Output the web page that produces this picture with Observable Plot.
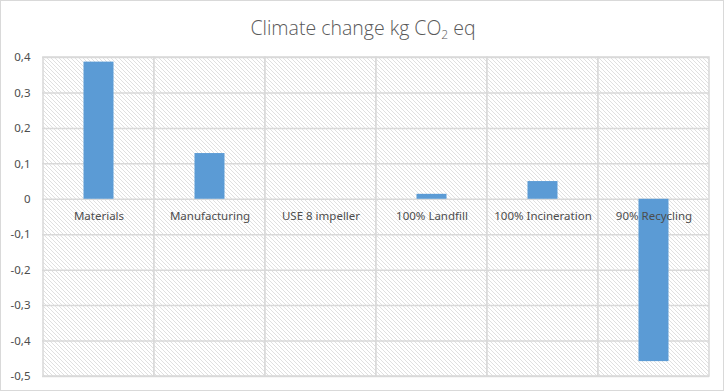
<!DOCTYPE html>
<html>
<head>
<meta charset="utf-8">
<script src="https://cdn.jsdelivr.net/npm/d3@7"></script>
<script src="https://cdn.jsdelivr.net/npm/@observablehq/plot@0.6"></script>
<style>
  html, body { margin: 0; padding: 0; background: #fff; }
  #wrap { position: relative; width: 726px; height: 392px; overflow: hidden; }
  #border { position: absolute; left: 0; top: 0; width: 722px; height: 389px; border: 1px solid #d9d9d9; pointer-events: none; }
  #title { height: 47px; line-height: 56px; text-align: center; font-family: "Open Sans", sans-serif; font-weight: 300; font-size: 19.5px; color: #595959; box-sizing: border-box; }
  #title sub { font-size: 12px; vertical-align: -4px; line-height: 0; }
  svg { display: block; }
</style>
</head>
<body>
<div id="wrap">
  <div id="title">Climate change kg CO<sub>2</sub> eq</div>
  <div id="chart"></div>
  <div id="border"></div>
</div>
<script>
const categories = ["Materials", "Manufacturing", "USE 8 impeller", "100% Landfill", "100% Incineration", "90% Recycling"];
const values = [0.387, 0.129, 0, 0.014, 0.05, -0.458];
const yTicks = [-0.5, -0.4, -0.3, -0.2, -0.1, 0, 0.1, 0.2, 0.3, 0.4];

const data = categories.map((c, i) => ({category: c, value: values[i]}));
const fmt = d => Math.abs(d) < 1e-9 ? "0" : d.toFixed(1).replace(".", ",");

const plot = Plot.plot({
  width: 726,
  height: 345,
  marginTop: 10,
  marginBottom: 16,
  marginLeft: 42,
  marginRight: 17,
  style: { fontFamily: "'Noto Sans', sans-serif", color: "#595959", background: "transparent" },
  x: { domain: categories, padding: 0, axis: null },
  y: { domain: [-0.5, 0.4], ticks: yTicks, tickFormat: fmt, tickSize: 0, tickPadding: 12, label: null },
  marks: [
    Plot.cell(categories, { x: d => d, fill: "url(#hatch)", stroke: "#d9d9d9", strokeWidth: 1.5 }),
    Plot.ruleY(yTicks, { stroke: "#d9d9d9", strokeWidth: 1.5 }),
    Plot.barY(data, { x: "category", y: "value", fill: "#5b9bd5", insetLeft: 40.5, insetRight: 40.5 }),
    Plot.text(categories, { x: d => d, y: () => 0, dy: 17, text: d => d, fontSize: 11.5, fill: "#4d4d4d" }),
    Plot.axisY({ ticks: yTicks, tickFormat: fmt, tickSize: 0, tickPadding: 12, fontSize: 11.5, fill: "#4d4d4d", label: null })
  ]
});

const svg = d3.select(plot);
const defs = svg.insert("defs", ":first-child");
const pat = defs.append("pattern")
  .attr("id", "hatch")
  .attr("patternUnits", "userSpaceOnUse")
  .attr("width", 4).attr("height", 4);
pat.append("rect").attr("width", 4).attr("height", 4).attr("fill", "#ffffff");
pat.append("path")
  .attr("d", "M-1,-1 L1,1 M0,0 L4,4 M3,3 L5,5")
  .attr("stroke", "#e0e0e0").attr("stroke-width", 1);

document.getElementById("chart").appendChild(plot);
</script>
</body>
</html>
